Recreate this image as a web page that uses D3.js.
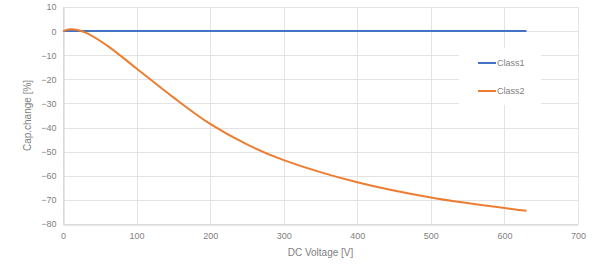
<!DOCTYPE html>
<html>
<head>
<meta charset="utf-8">
<script src="https://cdn.jsdelivr.net/npm/d3@7"></script>
<style>
  body { margin: 0; background: #fff; }
  svg { display: block; font-family: "Liberation Sans", Arial, sans-serif; }
</style>
</head>
<body>
<div id="chart"></div>
<script>
// values
const class1Volts = [0, 630];
const class1Change = [0, 0];

const class2Volts = [0, 10, 30, 60, 100, 150, 200, 250, 300, 400, 500, 630];
const class2Change = [0, 0.8, -0.5, -6, -15.5, -27.5, -38.5, -47, -53.5, -62.7, -69, -74.5];

const xTicks = [0, 100, 200, 300, 400, 500, 600, 700];
const yTicks = [10, 0, -10, -20, -30, -40, -50, -60, -70, -80];

const seriesNames = ['Class1', 'Class2'];
const seriesColors = ['#4472C4', '#ED7D31'];

const dims = {
    width: 600,
    height: 270,
    marginLeft: 63,
    marginRight: 22,
    marginTop: 7,
    marginBottom: 46,
};

const svg = d3
    .select('#chart')
    .append('svg')
    .attr('width', dims.width)
    .attr('height', dims.height);

const xScale = d3
    .scaleLinear()
    .domain([0, 700])
    .range([dims.marginLeft, dims.width - dims.marginRight]);

const yScale = d3
    .scaleLinear()
    .domain([-80, 10])
    .range([dims.height - dims.marginBottom, dims.marginTop]);

/* grid */
const grid = svg.append('g').attr('stroke', '#e3e3e3').attr('stroke-width', 1);
grid.selectAll('.hg')
    .data(yTicks)
    .join('line')
    .attr('x1', dims.marginLeft)
    .attr('x2', dims.width - dims.marginRight)
    .attr('y1', d => Math.round(yScale(d)) + 0.5)
    .attr('y2', d => Math.round(yScale(d)) + 0.5);
grid.selectAll('.vg')
    .data(xTicks)
    .join('line')
    .attr('y1', dims.marginTop)
    .attr('y2', dims.height - dims.marginBottom)
    .attr('x1', d => Math.round(xScale(d)) + 0.5)
    .attr('x2', d => Math.round(xScale(d)) + 0.5);

/* axes */
const xAxis = d3.axisBottom(xScale).tickValues(xTicks).tickSize(0).tickPadding(8);
const gX = svg
    .append('g')
    .attr('transform', `translate(0, ${Math.round(yScale(-80)) + 0.5})`)
    .call(xAxis);
gX.select('.domain').attr('stroke', '#d0d0d0');

const yAxis = d3.axisLeft(yScale).tickValues(yTicks).tickSize(0).tickPadding(7);
const gY = svg
    .append('g')
    .attr('transform', `translate(${Math.round(xScale(0)) + 0.5}, 0)`)
    .call(yAxis);
gY.select('.domain').attr('stroke', '#d0d0d0');

svg.selectAll('.tick text')
    .attr('fill', '#7f7f7f')
    .attr('font-size', 9)
    .attr('font-family', '"Liberation Sans", Arial, sans-serif');

/* axis titles */
svg.append('text')
    .text('DC Voltage [V]')
    .attr('x', (xScale(0) + xScale(700)) / 2)
    .attr('y', 256)
    .attr('text-anchor', 'middle')
    .attr('font-size', 10)
    .attr('fill', '#7f7f7f');

svg.append('text')
    .text('Cap.change [%]')
    .attr('transform', `translate(31, ${(yScale(10) + yScale(-80)) / 2}) rotate(-90)`)
    .attr('text-anchor', 'middle')
    .attr('font-size', 10)
    .attr('fill', '#7f7f7f');

/* lines */
const lineGenerator = d3
    .line()
    .x(d => xScale(d[0]))
    .y(d => yScale(d[1]))
    .curve(d3.curveCatmullRom.alpha(0.5));

const series = [
    d3.zip(class1Volts, class1Change),
    d3.zip(class2Volts, class2Change),
];

svg.selectAll('.series')
    .data(series)
    .join('path')
    .attr('d', lineGenerator)
    .attr('fill', 'none')
    .attr('stroke', (d, i) => seriesColors[i])
    .attr('stroke-width', 2)
    .attr('stroke-linejoin', 'round');

/* legend */
const legend = svg.append('g');
legend.append('rect')
    .attr('x', 459)
    .attr('y', 48)
    .attr('width', 82)
    .attr('height', 57)
    .attr('fill', '#fff');

const items = legend
    .selectAll('.item')
    .data(seriesNames)
    .join('g')
    .attr('transform', (d, i) => `translate(478, ${63 + i * 28})`);
items.append('line')
    .attr('x1', 0)
    .attr('x2', 18)
    .attr('stroke', (d, i) => seriesColors[i])
    .attr('stroke-width', 2);
items.append('text')
    .text(d => d)
    .attr('x', 19)
    .attr('dy', '0.35em')
    .attr('font-size', 9)
    .attr('fill', '#7f7f7f');
</script>
</body>
</html>
